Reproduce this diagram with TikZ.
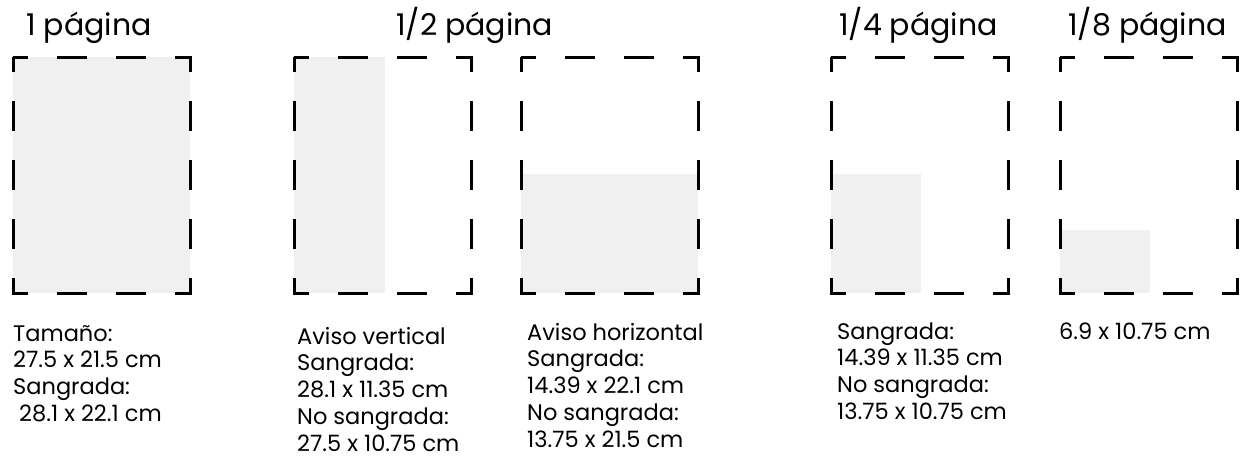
\documentclass[tikz,border=0pt]{standalone}
\usepackage{fontspec}
\setmainfont{Poppins}
\definecolor{fillgray}{HTML}{F0F0F0}
\begin{document}
\begin{tikzpicture}[x=1pt,y=-1pt,
  frame/.style={line width=3pt, dash pattern=on 29.5pt off 29.5pt, dash phase=14.75pt, line join=miter},
  area/.style={fill=fillgray},
  title/.style={anchor=base west, inner sep=0pt, font=\fontsize{30}{32}\selectfont},
  info/.style={anchor=base west, inner sep=0pt, font=\fontsize{22.5}{26.9}\selectfont}]
\useasboundingbox (0,0) rectangle (1248,464);
% fills
\fill[area] (13,57) rectangle (190,293);
\fill[area] (294,57) rectangle (385,293);
\fill[area] (521,174) rectangle (698,293);
\fill[area] (831,174) rectangle (921,293);
\fill[area] (1060,230) rectangle (1150,293);
% frames
\draw[frame] (13,57) rectangle (190,293);
\draw[frame] (294,57) rectangle (471,293);
\draw[frame] (521,57) rectangle (698,293);
\draw[frame] (831,57) rectangle (1008,293);
\draw[frame] (1060,57) rectangle (1237,293);
% titles
\node[title] (t1) at (26,35) {1 página};
\node[title] (t2) at (396,35) {1/2 página};
\node[title] (t4) at (839,35) {1/4 página};
\node[title] (t8) at (1068,35) {1/8 página};
% info
\node[info] (i1) at (13,341) {\begin{tabular}[t]{@{}l@{}}Tamaño:\\27.5 x 21.5 cm\\Sangrada:\\\ 28.1 x 22.1 cm\end{tabular}};
\node[info] (i2) at (297,344) {\begin{tabular}[t]{@{}l@{}}Aviso vertical\\Sangrada:\\28.1 x 11.35 cm\\No sangrada:\\27.5 x 10.75 cm\end{tabular}};
\node[info] (i3) at (527,340) {\begin{tabular}[t]{@{}l@{}}Aviso horizontal\\Sangrada:\\14.39 x 22.1 cm\\No sangrada:\\13.75 x 21.5 cm\end{tabular}};
\node[info] (i4) at (837,339) {\begin{tabular}[t]{@{}l@{}}Sangrada:\\14.39 x 11.35 cm\\No sangrada:\\13.75 x 10.75 cm\end{tabular}};
\node[info] (i5) at (1059,339) {\begin{tabular}[t]{@{}l@{}}6.9 x 10.75 cm\end{tabular}};
\end{tikzpicture}
\end{document}
